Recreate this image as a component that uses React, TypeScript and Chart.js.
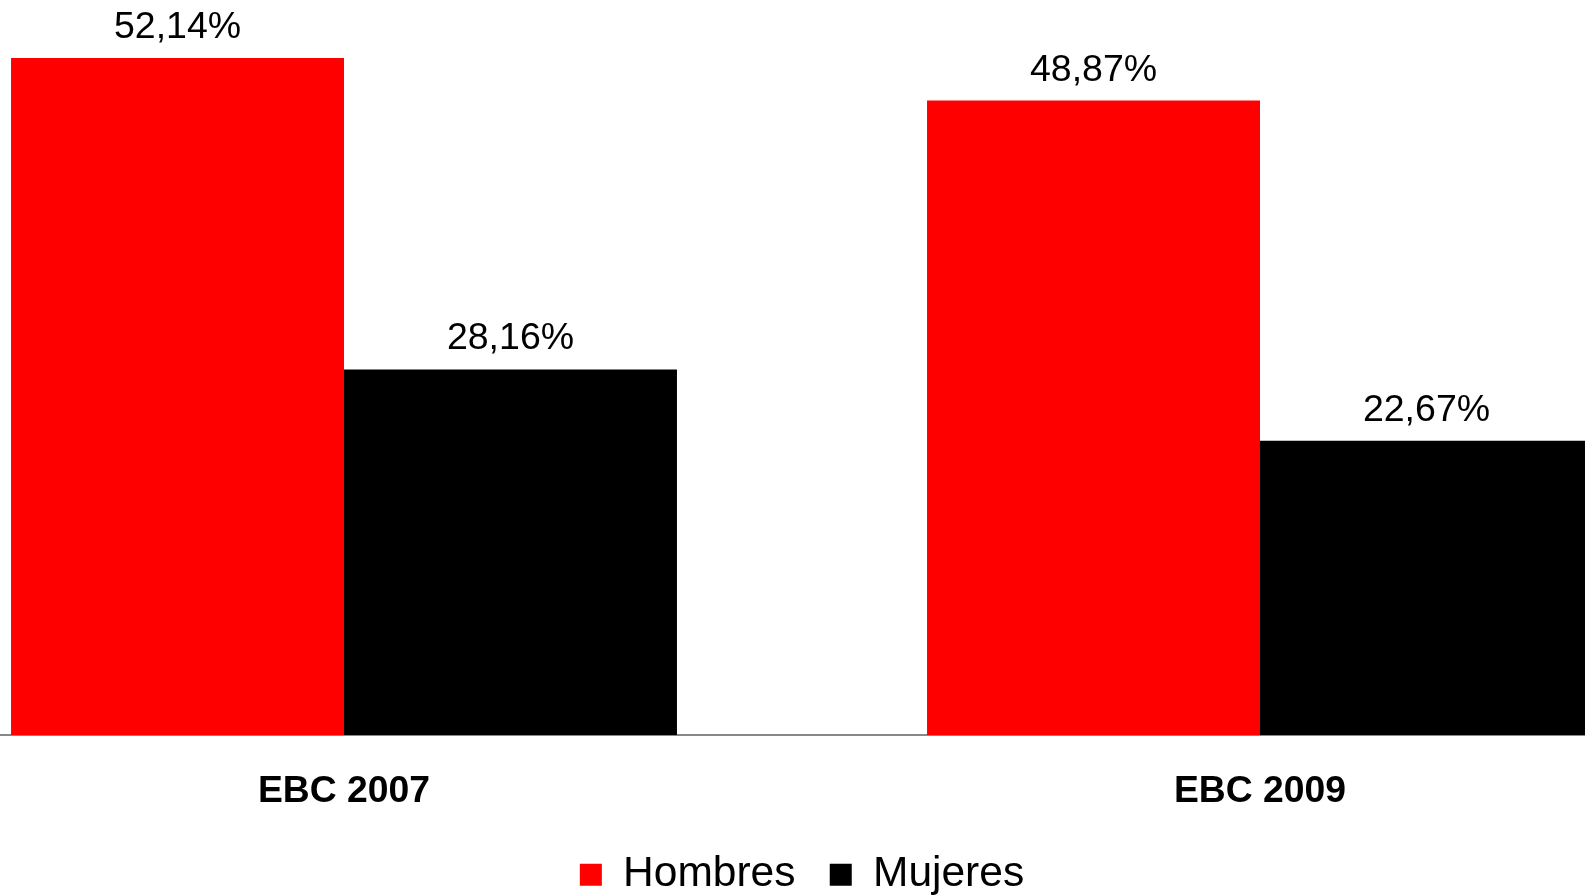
import React, { useEffect, useRef } from "react";
import { Chart, registerables } from "chart.js";

Chart.register(...registerables);

const categories = ["EBC 2007", "EBC 2009"];
const seriesNames = ["Hombres", "Mujeres"];
const hombres = [52.14, 48.87];
const mujeres = [28.16, 22.67];
const seriesColors = ["#FF0000", "#000000"];

const FONT = "'Liberation Sans', Arial, Helvetica, sans-serif";
const CANVAS_W = 1832;
const CANVAS_H = 906;

export default function App() {
  const ref = useRef<HTMLCanvasElement>(null);

  useEffect(() => {
    const labelPlugin = {
      id: "valueLabels",
      afterDatasetsDraw(chart: any) {
        const ctx = chart.ctx;
        ctx.save();
        ctx.font = `37.5px ${FONT}`;
        ctx.fillStyle = "#000";
        ctx.textAlign = "center";
        ctx.textBaseline = "alphabetic";
        chart.data.datasets.forEach((ds: any, i: number) => {
          const meta = chart.getDatasetMeta(i);
          meta.data.forEach((el: any, j: number) => {
            const v = ds.data[j] as number;
            ctx.fillText(v.toFixed(2).replace(".", ",") + "%", el.x, el.y - 20);
          });
        });
        ctx.restore();
      },
    };

    const chart = new Chart(ref.current!, {
      type: "bar",
      data: {
        labels: categories,
        datasets: [
          {
            label: seriesNames[0],
            data: hombres,
            backgroundColor: seriesColors[0],
            borderWidth: 0,
            barPercentage: 1,
            categoryPercentage: 0.727,
          },
          {
            label: seriesNames[1],
            data: mujeres,
            backgroundColor: seriesColors[1],
            borderWidth: 0,
            barPercentage: 1,
            categoryPercentage: 0.727,
          },
        ],
      },
      options: {
        responsive: false,
        animation: false,
        devicePixelRatio: 1,
        layout: { padding: { top: 8, left: 0, right: 0, bottom: 0 } },
        plugins: {
          legend: {
            position: "bottom",
            labels: {
              font: { family: FONT, size: 42.5 },
              color: "#000",
              boxWidth: 22,
              boxHeight: 22,
              padding: 13,
              generateLabels(chart: any) {
                const items = Chart.defaults.plugins.legend.labels.generateLabels(chart);
                return items.map((it: any, i: number) =>
                  i < items.length - 1 ? { ...it, text: it.text + "\u2002" } : it
                );
              },
            },
          },
          tooltip: { enabled: false },
          title: { display: false },
        },
        scales: {
          x: {
            grid: { display: false },
            border: { display: true, color: "#888888", width: 2 },
            ticks: {
              font: { family: FONT, size: 37.3, weight: "bold", lineHeight: 0.2 },
              color: "#000",
              padding: 45,
            },
          },
          y: {
            display: false,
            min: 0,
            max: 56,
          },
        },
      },
      plugins: [labelPlugin],
    });
    return () => chart.destroy();
  }, []);

  return (
    <div
      style={{
        position: "fixed",
        left: 0,
        top: 0,
        width: 1585,
        height: 896,
        overflow: "hidden",
        background: "#fff",
      }}
    >
      <canvas
        ref={ref}
        width={CANVAS_W}
        height={CANVAS_H}
        style={{ position: "absolute", left: -114, top: 0, width: CANVAS_W, height: CANVAS_H }}
      />
    </div>
  );
}
